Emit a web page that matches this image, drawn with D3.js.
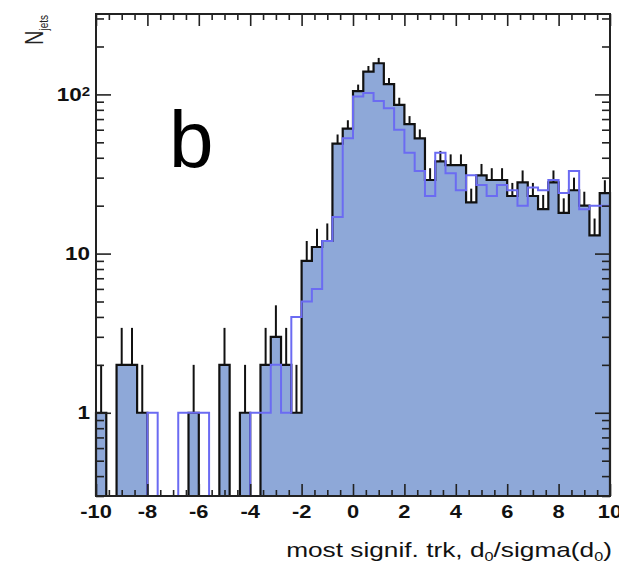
<!DOCTYPE html>
<html><head><meta charset="utf-8">
<script src="https://cdn.jsdelivr.net/npm/d3@7/dist/d3.min.js"></script>
<style>body{margin:0;background:#fff}svg{display:block}</style>
</head><body>
<svg id="c" width="619" height="566"></svg>
<script>
// ---- data (50 bins of width 0.4 from -10 to 10) ----
const xDomain = [-10, 10];
const nBins = 50;
const dataCounts = [1,0,2,2,1,0,0,0,0,1, 0,0,2,0,1,0,2,3,2,1,
  9,11,12,49,61,105,139,157,116,86, 65,53,29,38,36,36,21,31,29,29,
  23,28,23,19,28,18,25,20,13,24];
const mcCounts = [0,0,0,0,0,1,0,0,1,1, 1,0,0,0,0,1,1,2,1,4,
  5,6,12,17,53,97,102,91,82,60, 43,33,23,43,32,25,31,27,23,27,
  25,20,26,25,29,24,33,19,20,20];
const xMajorTicks = [-10,-8,-6,-4,-2,0,2,4,6,8,10];
const xMinorTicks = d3.range(-10, 10.001, 0.5).filter(v => Math.abs(v % 2) > 1e-6);
const yMajorTicks = [1, 10, 100];
const yMajorLabels = ["1", "10", "10|2"];
const yMinorTicks = [0.3,0.4,0.5,0.6,0.7,0.8,0.9,2,3,4,5,6,7,8,9,20,30,40,50,60,70,80,90,200,300];

// ---- layout ----
const L = 96, R = 610, T = 14, B = 496;
const SX = 1.25; // horizontal stretch of the original picture's text
const svg = d3.select("#c");
const x = d3.scaleLinear().domain(xDomain).range([L, R]);
const yMin = 0.3;
const y = d3.scaleLog().domain([yMin, 320]).range([B, T]).clamp(true);

const binW = (xDomain[1] - xDomain[0]) / nBins;
const edges = d3.range(nBins + 1).map(i => xDomain[0] + i * binW);
const cv = v => (v > 0 ? v : yMin);

const fillCol = "#8ea8d8", mcCol = "#6b6bf2";

// filled data histogram
const areaPts = dataCounts.map((v, i) => [edges[i], v]).concat([[edges[nBins], dataCounts[nBins - 1]]]);
svg.append("path")
  .attr("d", d3.area().curve(d3.curveStepAfter).x(d => x(d[0])).y0(B).y1(d => y(cv(d[1])))(areaPts))
  .attr("fill", fillCol);

// black outline
const linePts = [[edges[0], yMin]].concat(areaPts).concat([[edges[nBins], yMin]]);
const stepLine = d3.line().curve(d3.curveStepAfter).x(d => x(d[0])).y(d => y(cv(d[1])));
svg.append("path").attr("d", stepLine(linePts))
  .attr("fill", "none").attr("stroke", "#111").attr("stroke-width", 2.2);

// error bars (upper half)
svg.append("g").selectAll("line").data(dataCounts.map((v, i) => ({v, c: edges[i] + binW / 2})).filter(d => d.v > 0))
  .join("line")
  .attr("x1", d => x(d.c)).attr("x2", d => x(d.c))
  .attr("y1", d => y(d.v)).attr("y2", d => y(d.v + Math.sqrt(d.v)))
  .attr("stroke", "#111").attr("stroke-width", 2);

// MC step line
const mcPts = [[edges[0], yMin]].concat(mcCounts.map((v, i) => [edges[i], v]))
  .concat([[edges[nBins], mcCounts[nBins - 1]]]);
svg.append("path").attr("d", stepLine(mcPts))
  .attr("fill", "none").attr("stroke", mcCol).attr("stroke-width", 2);

// ---- axes (ticks inside on all four sides) ----
function ax(gen, tr) {
  const g = svg.append("g").attr("transform", tr).call(gen);
  g.select(".domain").remove();
  g.selectAll("text").remove();
  g.selectAll("line").attr("stroke", "#222").attr("stroke-width", 1.6);
  return g;
}
ax(d3.axisBottom(x).tickValues(xMajorTicks).tickSize(-12), `translate(0,${B})`);
ax(d3.axisBottom(x).tickValues(xMinorTicks).tickSize(-6), `translate(0,${B})`);
ax(d3.axisTop(x).tickValues(xMajorTicks).tickSize(-12), `translate(0,${T})`);
ax(d3.axisTop(x).tickValues(xMinorTicks).tickSize(-6), `translate(0,${T})`);
ax(d3.axisLeft(y).tickValues(yMajorTicks).tickSize(-15), `translate(${L},0)`);
ax(d3.axisLeft(y).tickValues(yMinorTicks).tickSize(-8), `translate(${L},0)`);
ax(d3.axisRight(y).tickValues(yMajorTicks).tickSize(-15), `translate(${R},0)`);
ax(d3.axisRight(y).tickValues(yMinorTicks).tickSize(-8), `translate(${R},0)`);

// frame
svg.append("rect").attr("x", L).attr("y", T).attr("width", R - L).attr("height", B - T)
  .attr("fill", "none").attr("stroke", "#222").attr("stroke-width", 2);

// ---- labels ----
const font = "'Liberation Sans', Arial, Helvetica, sans-serif";
svg.append("g").selectAll("text").data(xMajorTicks).join("text")
  .attr("transform", d => `translate(${x(d)},518) scale(${SX},1)`)
  .attr("text-anchor", "middle").attr("font-family", font).attr("font-weight", "bold")
  .attr("font-size", 17.5).attr("fill", "#111").text(d => d);

yMajorTicks.forEach((v, i) => {
  const parts = yMajorLabels[i].split("|");
  const t = svg.append("text")
    .attr("transform", `translate(90,${y(v)}) scale(${SX},1)`)
    .attr("text-anchor", "end").attr("dy", "0.36em")
    .attr("font-family", font).attr("font-weight", "bold").attr("font-size", 18).attr("fill", "#111");
  t.append("tspan").text(parts[0]);
  if (parts[1]) t.append("tspan").attr("dy", "-0.45em").attr("font-size", 12).text(parts[1]);
});

// x title
const xt = svg.append("text")
  .attr("transform", `translate(612,557) scale(${SX},1)`)
  .attr("text-anchor", "end").attr("font-family", font).attr("font-size", 21).attr("fill", "#111");
xt.append("tspan").text("most signif. trk, d");
xt.append("tspan").attr("font-size", 13).attr("dy", 4).text("0");
xt.append("tspan").attr("dy", -4).text("/sigma(d");
xt.append("tspan").attr("font-size", 13).attr("dy", 4).text("0");
xt.append("tspan").attr("dy", -4).text(")");

// y title
const yt = svg.append("text")
  .attr("transform", `translate(43,15) scale(${SX},1) rotate(-90)`)
  .attr("text-anchor", "end").attr("font-family", font).attr("font-size", 20).attr("fill", "#222");
yt.append("tspan").text("N");
yt.append("tspan").attr("font-size", 10).attr("dy", 4).text("jets");

// panel letter
svg.append("text").attr("x", 169).attr("y", 167)
  .attr("font-family", font).attr("font-size", 80).attr("fill", "#000").text("b");
</script>
</body></html>
